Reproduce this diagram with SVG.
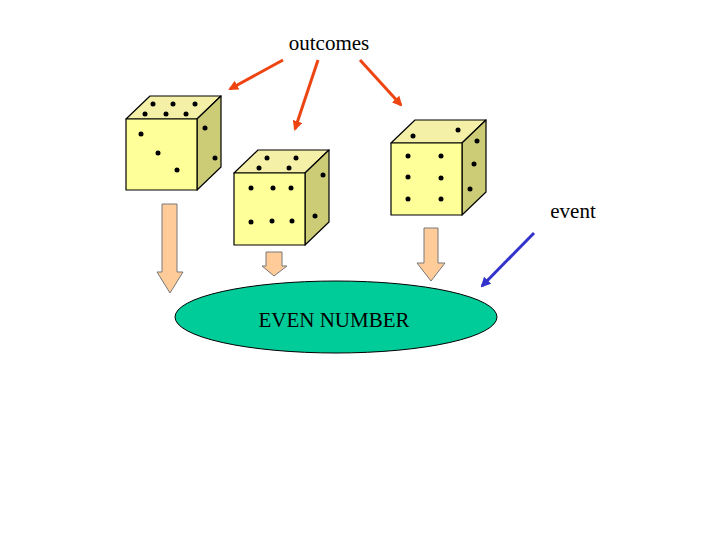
<svg xmlns="http://www.w3.org/2000/svg" width="720" height="540" viewBox="0 0 720 540">
<style>
.f{fill:#ffff99;stroke:#000;stroke-width:1.2;stroke-linejoin:round}
.t{fill:#f5f0a8;stroke:#000;stroke-width:1.2;stroke-linejoin:round}
.r{fill:#cccc77;stroke:#000;stroke-width:1.2;stroke-linejoin:round}
.d{fill:#000}
.ba{fill:#ffcc99;stroke:#777;stroke-width:1}
text{font-family:"Liberation Serif",serif;font-size:21px;fill:#000}
</style>
<defs>
<marker id="mr" markerWidth="10" markerHeight="10" refX="8" refY="5" orient="auto" markerUnits="userSpaceOnUse"><path d="M0,0 L10,5 L0,10 z" fill="#ee4411"/></marker>
<marker id="mb" markerWidth="10" markerHeight="10" refX="8" refY="5" orient="auto" markerUnits="userSpaceOnUse"><path d="M0,0 L10,5 L0,10 z" fill="#3333cc"/></marker>
</defs>
<g id="die1">
<polygon class="t" points="126,119 197,119 221,96 150,96"/>
<polygon class="r" points="197,119 221,96 221,167 197,190"/>
<rect class="f" x="126" y="119" width="71" height="71"/>
<g class="d"><circle cx="153" cy="104" r="2.5"/><circle cx="173" cy="104" r="2.5"/><circle cx="195" cy="104" r="2.5"/><circle cx="145" cy="114" r="2.5"/><circle cx="166" cy="114" r="2.5"/><circle cx="186" cy="114" r="2.5"/><circle cx="141" cy="134" r="2.5"/><circle cx="158" cy="153" r="2.5"/><circle cx="177" cy="170" r="2.5"/><circle cx="205" cy="128" r="2.5"/><circle cx="215" cy="158" r="2.5"/></g>
</g>
<g id="die2">
<polygon class="t" points="234,173 305,173 329,150 258,150"/>
<polygon class="r" points="305,173 329,150 329,222 305,245"/>
<rect class="f" x="234" y="173" width="71" height="72"/>
<g class="d"><circle cx="267" cy="158" r="2.5"/><circle cx="296" cy="158" r="2.5"/><circle cx="259" cy="168" r="2.5"/><circle cx="289" cy="168" r="2.5"/><circle cx="251" cy="188" r="2.5"/><circle cx="273" cy="188" r="2.5"/><circle cx="291" cy="188" r="2.5"/><circle cx="251" cy="222" r="2.5"/><circle cx="272" cy="221" r="2.5"/><circle cx="292" cy="221" r="2.5"/><circle cx="323" cy="175" r="2.5"/><circle cx="315" cy="216" r="2.5"/></g>
</g>
<g id="die3">
<polygon class="t" points="391,143 462,143 486,120 415,120"/>
<polygon class="r" points="462,143 486,120 486,192 462,215"/>
<rect class="f" x="391" y="143" width="71" height="72"/>
<g class="d"><circle cx="413" cy="136" r="2.5"/><circle cx="458" cy="130" r="2.5"/><circle cx="408" cy="156" r="2.5"/><circle cx="441" cy="156" r="2.5"/><circle cx="408" cy="177" r="2.5"/><circle cx="441" cy="178" r="2.5"/><circle cx="408" cy="199" r="2.5"/><circle cx="441" cy="199" r="2.5"/><circle cx="477" cy="141" r="2.5"/><circle cx="474" cy="164" r="2.5"/><circle cx="470" cy="189" r="2.5"/></g>
</g>
<g id="event-node">
<ellipse cx="336" cy="317" rx="161" ry="36" fill="#00cc99" stroke="#000" stroke-width="1"/>
<text x="334" y="327" text-anchor="middle">EVEN NUMBER</text>
</g>
<g id="labels">
<text x="329" y="50" text-anchor="middle">outcomes</text>
<text x="573" y="218" text-anchor="middle">event</text>
</g>
<g id="connectors">
<polygon class="ba" points="162,204 177,204 177,272 183,272 170,293 157,272 162,272"/>
<polygon class="ba" points="266,252 282,252 282,266 287,266 274,276 262,266 266,266"/>
<polygon class="ba" points="424,228 438,228 438,263 445,263 431,281 417,263 424,263"/>
<g stroke="#ee4411" stroke-width="3" fill="none">
<line x1="283" y1="60" x2="230" y2="89" marker-end="url(#mr)"/>
<line x1="318" y1="60" x2="295" y2="129" marker-end="url(#mr)"/>
<line x1="360" y1="60" x2="401" y2="105" marker-end="url(#mr)"/>
</g>
<line x1="534" y1="233" x2="482" y2="286" stroke="#3333cc" stroke-width="3" marker-end="url(#mb)"/>
</g>
</svg>
